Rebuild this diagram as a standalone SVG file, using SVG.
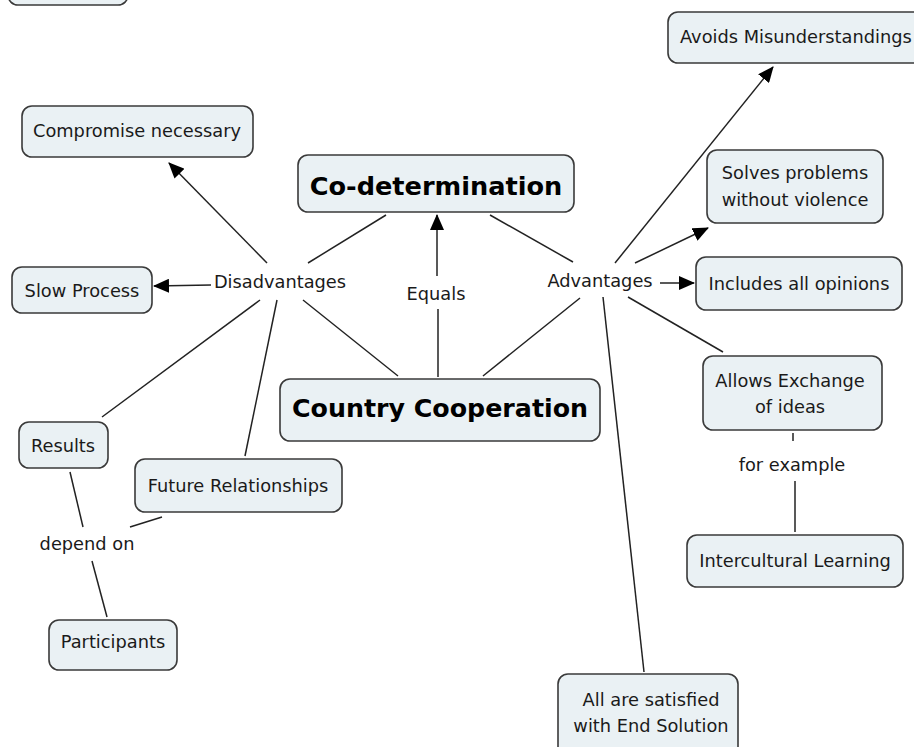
<svg xmlns="http://www.w3.org/2000/svg" width="914" height="747" viewBox="0 0 914 747">
  <style>
    .box { fill: #eaf1f4; stroke: #3a3a3a; stroke-width: 1.6; }
    .t { font-family: "DejaVu Sans", Verdana, sans-serif; font-size: 17.8px; fill: #1a1a1a; text-anchor: middle; }
    .b { font-family: "DejaVu Sans", Verdana, sans-serif; font-weight: bold; fill: #000; text-anchor: middle; }
    .ln { stroke: #222; stroke-width: 1.5; fill: none; }
  </style>
  <defs>
    <marker id="arr" markerUnits="userSpaceOnUse" markerWidth="16" markerHeight="14" viewBox="0 0 16 14" refX="15" refY="7" orient="auto">
      <path d="M0,0 L16,7 L0,14 Z" fill="#000"/>
    </marker>
  </defs>
  <rect width="914" height="747" fill="#ffffff"/>

  <g id="connectors">
    <!-- Disadvantages branch -->
    <line class="ln" x1="267" y1="263" x2="169" y2="163" marker-end="url(#arr)"/>
    <line class="ln" x1="308" y1="263" x2="386" y2="215"/>
    <line class="ln" x1="211" y1="285" x2="154" y2="286" marker-end="url(#arr)"/>
    <line class="ln" x1="303" y1="300" x2="398" y2="376"/>
    <line class="ln" x1="260" y1="300" x2="102" y2="417"/>
    <line class="ln" x1="277" y1="300" x2="245" y2="456"/>
    <!-- Equals -->
    <line class="ln" x1="437" y1="276" x2="437" y2="215" marker-end="url(#arr)"/>
    <line class="ln" x1="438" y1="309" x2="438" y2="377"/>
    <!-- Advantages branch -->
    <line class="ln" x1="490" y1="215" x2="573" y2="262"/>
    <line class="ln" x1="580" y1="298" x2="483" y2="376"/>
    <line class="ln" x1="615" y1="263" x2="773" y2="67" marker-end="url(#arr)"/>
    <line class="ln" x1="635" y1="263" x2="708" y2="228" marker-end="url(#arr)"/>
    <line class="ln" x1="660" y1="283" x2="694" y2="283" marker-end="url(#arr)"/>
    <line class="ln" x1="628" y1="297" x2="723" y2="352"/>
    <line class="ln" x1="603" y1="297" x2="644" y2="672"/>
    <!-- for example -->
    <line class="ln" x1="793" y1="433" x2="793" y2="441"/>
    <line class="ln" x1="795" y1="481" x2="795" y2="532"/>
    <!-- depend on -->
    <line class="ln" x1="70" y1="472" x2="83" y2="527"/>
    <line class="ln" x1="92" y1="561" x2="107" y2="617"/>
    <line class="ln" x1="162" y1="517" x2="130" y2="527"/>
  </g>

  <g id="node-top">
    <rect class="box" x="8" y="-30" width="120" height="35" rx="10"/>
  </g>
  <g id="node-compromise">
    <rect class="box" x="22" y="106" width="231" height="51" rx="10"/>
    <text class="t" x="137" y="137">Compromise necessary</text>
  </g>
  <g id="node-codetermination">
    <rect class="box" x="298" y="155" width="276" height="57" rx="10"/>
    <text class="b" x="436" y="195" font-size="25.6">Co-determination</text>
  </g>
  <g id="node-avoids">
    <rect class="box" x="668" y="12" width="260" height="51" rx="10"/>
    <text class="t" x="680" y="43" style="text-anchor:start">Avoids Misunderstandings</text>
  </g>
  <g id="node-solves">
    <rect class="box" x="707" y="150" width="176" height="73" rx="10"/>
    <text class="t" x="795" y="179">Solves problems</text>
    <text class="t" x="795" y="206">without violence</text>
  </g>
  <g id="node-includes">
    <rect class="box" x="696" y="257" width="206" height="53" rx="10"/>
    <text class="t" x="799" y="290">Includes all opinions</text>
  </g>
  <g id="label-advantages">
    <text class="t" x="600" y="287">Advantages</text>
  </g>
  <g id="label-disadvantages">
    <text class="t" x="280" y="288">Disadvantages</text>
  </g>
  <g id="node-slow">
    <rect class="box" x="12" y="267" width="140" height="46" rx="10"/>
    <text class="t" x="82" y="297">Slow Process</text>
  </g>
  <g id="label-equals">
    <text class="t" x="436" y="300">Equals</text>
  </g>
  <g id="node-country">
    <rect class="box" x="280" y="379" width="320" height="62" rx="10"/>
    <text class="b" x="440" y="417" font-size="25.3">Country Cooperation</text>
  </g>
  <g id="node-allows">
    <rect class="box" x="703" y="356" width="179" height="74" rx="10"/>
    <text class="t" x="790" y="387">Allows Exchange</text>
    <text class="t" x="790" y="413">of ideas</text>
  </g>
  <g id="label-forexample">
    <text class="t" x="792" y="471">for example</text>
  </g>
  <g id="node-intercultural">
    <rect class="box" x="687" y="535" width="216" height="52" rx="10"/>
    <text class="t" x="795" y="567">Intercultural Learning</text>
  </g>
  <g id="node-satisfied">
    <rect class="box" x="558" y="674" width="180" height="85" rx="10"/>
    <text class="t" x="651" y="706">All are satisfied</text>
    <text class="t" x="651" y="732">with End Solution</text>
  </g>
  <g id="node-results">
    <rect class="box" x="19" y="422" width="89" height="46" rx="10"/>
    <text class="t" x="63" y="452">Results</text>
  </g>
  <g id="node-future">
    <rect class="box" x="135" y="459" width="207" height="53" rx="10"/>
    <text class="t" x="238" y="492">Future Relationships</text>
  </g>
  <g id="label-dependon">
    <text class="t" x="87" y="550">depend on</text>
  </g>
  <g id="node-participants">
    <rect class="box" x="49" y="620" width="128" height="50" rx="10"/>
    <text class="t" x="113" y="648">Participants</text>
  </g>
</svg>
